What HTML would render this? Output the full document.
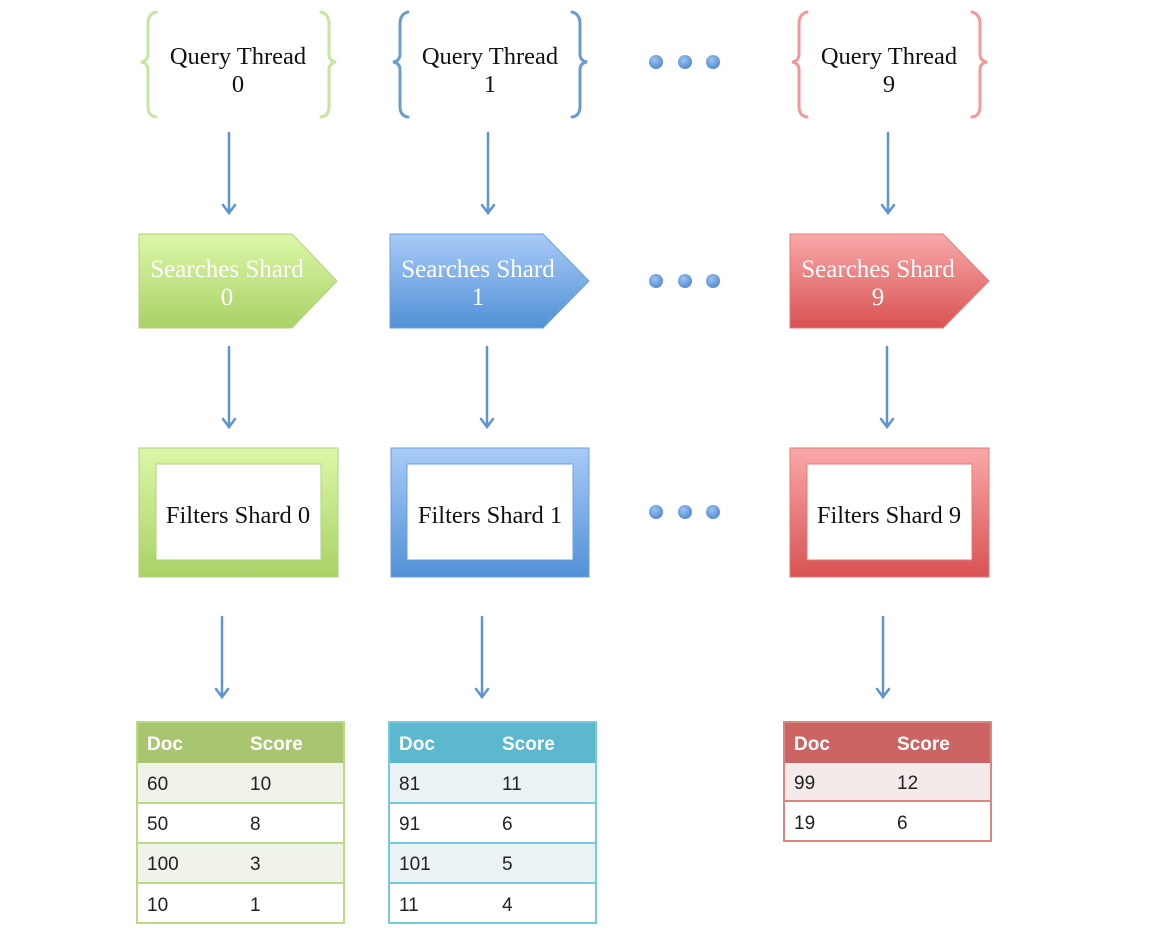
<!DOCTYPE html>
<html><head><meta charset="utf-8"><style>
html,body{margin:0;padding:0;background:#fff;width:1170px;height:944px;overflow:hidden}
svg{display:block}
.q{font-family:"Liberation Serif",serif;font-size:24.5px;fill:#111;text-anchor:middle}
.s{font-family:"Liberation Serif",serif;font-size:25px;fill:#fff;text-anchor:middle}
.f{font-family:"Liberation Serif",serif;font-size:24.5px;fill:#111;text-anchor:middle}
.h{font-family:"Liberation Sans",sans-serif;font-size:19px;font-weight:bold;fill:#fff}
.t{font-family:"Liberation Sans",sans-serif;font-size:19px;fill:#222}
</style></head><body>
<svg width="1170" height="944" viewBox="0 0 1170 944" xmlns="http://www.w3.org/2000/svg">
<defs>
<linearGradient id="gg" x1="0" y1="0" x2="0" y2="1"><stop offset="0" stop-color="#dcf7a8"/><stop offset="1" stop-color="#a9d166"/></linearGradient>
<linearGradient id="gb" x1="0" y1="0" x2="0" y2="1"><stop offset="0" stop-color="#a9cbf7"/><stop offset="1" stop-color="#5191d6"/></linearGradient>
<linearGradient id="gr" x1="0" y1="0" x2="0" y2="1"><stop offset="0" stop-color="#f9a9a9"/><stop offset="1" stop-color="#d95252"/></linearGradient>
<radialGradient id="dot" cx="0.4" cy="0.35" r="0.7"><stop offset="0" stop-color="#9cc3f0"/><stop offset="1" stop-color="#4f88cf"/></radialGradient>
</defs>

<!-- braces -->
<g fill="none" stroke-width="3" stroke-linecap="round">
<g stroke="#c6e5a0">
<path d="M156,12 Q148,14 148,24 L148,54 Q148,61 141,62 Q148,63 148,70 L148,106 Q148,116 156,117"/>
<path d="M321,12 Q329,14 329,24 L329,54 Q329,61 336,62 Q329,63 329,70 L329,106 Q329,116 321,117"/>
</g>
<g stroke="#6a9bd1">
<path d="M408,12 Q400,14 400,24 L400,54 Q400,61 393,62 Q400,63 400,70 L400,106 Q400,116 408,117"/>
<path d="M572,12 Q580,14 580,24 L580,54 Q580,61 587,62 Q580,63 580,70 L580,106 Q580,116 572,117"/>
</g>
<g stroke="#f29a9a">
<path d="M807,12 Q799,14 799,24 L799,54 Q799,61 792,62 Q799,63 799,70 L799,106 Q799,116 807,117"/>
<path d="M972,12 Q980,14 980,24 L980,54 Q980,61 987,62 Q980,63 980,70 L980,106 Q980,116 972,117"/>
</g>
</g>
<text class="q" x="238" y="64">Query Thread</text><text class="q" x="238" y="92">0</text>
<text class="q" x="490" y="64">Query Thread</text><text class="q" x="490" y="92">1</text>
<text class="q" x="889" y="64">Query Thread</text><text class="q" x="889" y="92">9</text>

<!-- dots -->
<g fill="url(#dot)">
<circle cx="656" cy="62" r="7"/><circle cx="685" cy="62" r="7"/><circle cx="713" cy="62" r="7"/>
<circle cx="656" cy="281" r="7"/><circle cx="685" cy="281" r="7"/><circle cx="713" cy="281" r="7"/>
<circle cx="656" cy="512" r="7"/><circle cx="685" cy="512" r="7"/><circle cx="713" cy="512" r="7"/>
</g>

<!-- arrows -->
<g stroke="#5f95cf" stroke-width="2.5" fill="none" stroke-linecap="round">
<path d="M229,133 V213 M223,205 L229,213 L235,205"/>
<path d="M488,133 V213 M482,205 L488,213 L494,205"/>
<path d="M888,133 V213 M882,205 L888,213 L894,205"/>
<path d="M229,347 V427 M223,419 L229,427 L235,419"/>
<path d="M487,347 V427 M481,419 L487,427 L493,419"/>
<path d="M887,347 V427 M881,419 L887,427 L893,419"/>
<path d="M222,617 V697 M216,689 L222,697 L228,689"/>
<path d="M482,617 V697 M476,689 L482,697 L488,689"/>
<path d="M883,617 V697 M877,689 L883,697 L889,689"/>
</g>

<!-- pentagons -->
<polygon points="139,234 292,234 337,281 292,328 139,328" fill="url(#gg)" stroke="#b2d27f" stroke-width="1"/>
<polygon points="390,234 543,234 589,281 543,328 390,328" fill="url(#gb)" stroke="#6c9fd9" stroke-width="1"/>
<polygon points="790,234 943,234 989,281 943,328 790,328" fill="url(#gr)" stroke="#e07b7b" stroke-width="1"/>
<text class="s" x="227" y="277">Searches Shard</text><text class="s" x="227" y="305">0</text>
<text class="s" x="478" y="277">Searches Shard</text><text class="s" x="478" y="305">1</text>
<text class="s" x="878" y="277">Searches Shard</text><text class="s" x="878" y="305">9</text>

<!-- filters -->
<rect x="139" y="448" width="199" height="129" fill="url(#gg)" stroke="#b2d27f"/>
<rect x="156" y="464" width="165" height="96" fill="#fff" stroke="#b2d27f"/>
<rect x="391" y="448" width="198" height="129" fill="url(#gb)" stroke="#6c9fd9"/>
<rect x="407" y="464" width="166" height="96" fill="#fff" stroke="#6c9fd9"/>
<rect x="790" y="448" width="199" height="129" fill="url(#gr)" stroke="#e07b7b"/>
<rect x="807" y="464" width="165" height="96" fill="#fff" stroke="#e07b7b"/>
<text class="f" x="238" y="523">Filters Shard 0</text>
<text class="f" x="490" y="523">Filters Shard 1</text>
<text class="f" x="889" y="523">Filters Shard 9</text>

<!-- table 0 -->
<g>
<rect x="137" y="722" width="207" height="41" fill="#a9c56f"/>
<rect x="137" y="763" width="207" height="40" fill="#eff3ea"/>
<rect x="137" y="843" width="207" height="40" fill="#eff3ea"/>
<g stroke="#b9da86" stroke-width="2" fill="none">
<rect x="137" y="722" width="207" height="201"/>
<line x1="137" y1="803" x2="344" y2="803"/><line x1="137" y1="843" x2="344" y2="843"/><line x1="137" y1="883" x2="344" y2="883"/>
</g>
<text class="h" x="147" y="750">Doc</text><text class="h" x="250" y="750">Score</text>
<text class="t" x="147" y="790">60</text><text class="t" x="250" y="790">10</text>
<text class="t" x="147" y="830">50</text><text class="t" x="250" y="830">8</text>
<text class="t" x="147" y="870">100</text><text class="t" x="250" y="870">3</text>
<text class="t" x="147" y="911">10</text><text class="t" x="250" y="911">1</text>
</g>
<!-- table 1 -->
<g>
<rect x="389" y="722" width="207" height="41" fill="#5bb8cf"/>
<rect x="389" y="763" width="207" height="40" fill="#eaf2f6"/>
<rect x="389" y="843" width="207" height="40" fill="#eaf2f6"/>
<g stroke="#76c8da" stroke-width="2" fill="none">
<rect x="389" y="722" width="207" height="201"/>
<line x1="389" y1="803" x2="596" y2="803"/><line x1="389" y1="843" x2="596" y2="843"/><line x1="389" y1="883" x2="596" y2="883"/>
</g>
<text class="h" x="399" y="750">Doc</text><text class="h" x="502" y="750">Score</text>
<text class="t" x="399" y="790">81</text><text class="t" x="502" y="790">11</text>
<text class="t" x="399" y="830">91</text><text class="t" x="502" y="830">6</text>
<text class="t" x="399" y="870">101</text><text class="t" x="502" y="870">5</text>
<text class="t" x="399" y="911">11</text><text class="t" x="502" y="911">4</text>
</g>
<!-- table 9 -->
<g>
<rect x="784" y="722" width="207" height="41" fill="#cb6463"/>
<rect x="784" y="763" width="207" height="38" fill="#f5eaea"/>
<g stroke="#db8585" stroke-width="2" fill="none">
<rect x="784" y="722" width="207" height="119"/>
<line x1="784" y1="801" x2="991" y2="801"/>
</g>
<text class="h" x="794" y="750">Doc</text><text class="h" x="897" y="750">Score</text>
<text class="t" x="794" y="789">99</text><text class="t" x="897" y="789">12</text>
<text class="t" x="794" y="829">19</text><text class="t" x="897" y="829">6</text>
</g>
</svg>
</body></html>
